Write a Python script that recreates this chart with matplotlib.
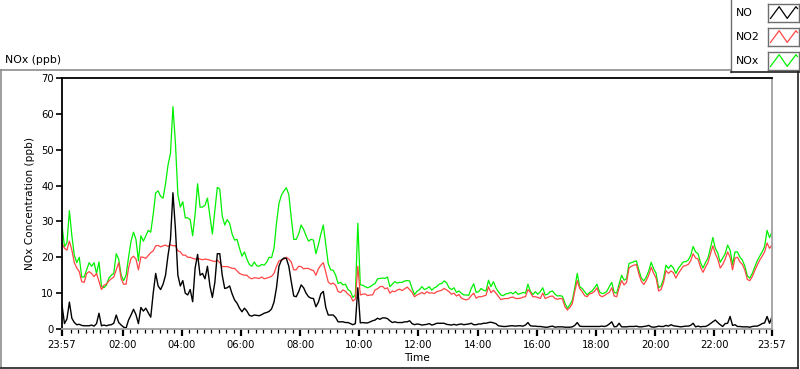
import numpy as np
import matplotlib.pyplot as plt
from matplotlib.lines import Line2D

# 5-minute samples starting at 23:57, one row per hour
no_ppb = [
    6.7, 1.5, 2.8, 7.5, 3.0, 1.8, 1.2, 1.3, 1.0, 0.9, 0.9, 0.9,
    1.1, 0.8, 1.5, 4.4, 0.9, 1.1, 0.9, 1.1, 1.2, 1.6, 3.9, 1.8,
    1.1, 0.5, 0.3, 2.5, 3.9, 5.5, 4.0, 1.5, 6.0, 5.0, 5.8, 4.5,
    3.3, 10.0, 15.5, 12.0, 11.0, 12.5, 15.0, 20.5, 25.0, 38.0, 28.0, 15.0,
    12.0, 13.5, 10.0, 9.5, 11.0, 7.6, 17.0, 20.8, 15.0, 15.5, 14.0, 17.5,
    12.0, 8.8, 13.0, 21.0, 21.0, 15.0, 11.3, 11.5, 12.0, 9.8, 8.1, 7.2,
    5.8, 4.8, 5.8, 5.0, 3.8, 3.6, 3.9, 3.8, 3.7, 4.0, 4.4, 4.6,
    4.9, 5.6, 7.5, 11.5, 17.5, 19.2, 19.8, 19.7, 17.5, 13.2, 9.2, 9.0,
    10.4, 12.3, 11.5, 10.0, 9.0, 8.6, 8.5, 6.2, 7.5, 9.8, 10.5, 6.0,
    3.9, 3.9, 3.9, 3.2, 2.0, 2.0, 2.0, 1.8, 1.8, 1.5, 1.2, 1.5,
    11.5, 1.7, 1.8, 1.7, 1.7, 2.0, 2.3, 2.5, 3.0, 2.7, 3.1, 3.1,
    2.9, 2.3, 1.8, 2.0, 1.8, 1.8, 1.8, 2.0, 2.0, 2.3, 1.5, 1.2,
    1.4, 1.3, 1.1, 1.2, 1.3, 1.5, 1.1, 1.3, 1.6, 1.6, 1.6, 1.6,
    1.3, 1.2, 1.1, 1.3, 1.1, 1.3, 1.4, 1.2, 1.3, 1.4, 1.6, 1.2,
    1.2, 1.4, 1.4, 1.6, 1.6, 1.8, 1.9, 1.7, 1.5, 0.9, 0.8, 0.7,
    0.7, 0.8, 0.9, 0.9, 0.8, 0.9, 0.9, 0.8, 1.1, 1.8, 0.9, 0.8,
    0.8, 0.7, 0.7, 0.6, 0.5, 0.5, 0.7, 0.8, 0.5, 0.6, 0.6, 0.6,
    0.5, 0.5, 0.5, 0.6, 1.0, 1.8, 0.8, 0.7, 0.7, 0.7, 0.7, 0.7,
    0.7, 0.7, 0.7, 0.8, 0.7, 0.9, 1.4, 2.0, 0.6, 0.7, 1.6, 0.6,
    0.6, 0.6, 0.7, 0.7, 0.7, 0.8, 0.6, 0.6, 0.7, 0.8, 1.0, 0.6,
    0.5, 0.6, 0.8, 0.7, 0.7, 1.0, 0.8, 1.2, 0.9, 0.8, 0.7, 0.6,
    0.7, 0.8, 0.8, 1.0, 1.6, 0.6, 0.8, 0.6, 0.7, 0.7, 1.0, 1.5,
    2.0, 2.5, 1.8, 1.2, 0.7, 1.5, 1.6, 3.5, 1.0, 1.2, 0.7, 0.7,
    0.6, 0.6, 0.6, 0.5, 0.7, 0.8, 0.8, 1.1, 1.5, 1.7, 3.5, 1.6,
    3.4,
]

no2_ppb = [
    23.9, 22.5, 22.0, 24.5, 22.0, 18.5, 17.0, 16.0, 13.2, 13.0, 15.5, 16.0,
    15.5, 14.6, 15.5, 13.2, 11.0, 12.2, 12.5, 13.4, 14.0, 14.5, 16.5, 18.5,
    14.0, 12.5, 12.5, 17.0, 19.7, 20.3, 19.5, 16.5, 20.1, 20.0, 19.7, 20.5,
    21.3, 21.8, 23.2, 23.3, 22.9, 23.2, 23.4, 23.0, 23.5, 23.2, 23.3, 21.8,
    21.5, 20.6, 20.6, 20.0, 20.0, 19.7, 19.5, 19.7, 19.5, 19.3, 19.5, 19.4,
    19.2, 19.0, 18.8, 19.2, 18.5, 17.4, 17.4, 17.4, 17.2, 16.9, 16.9, 16.2,
    15.5, 15.2, 15.0, 15.0, 14.3, 14.0, 14.3, 14.2, 14.1, 14.5, 14.0, 14.2,
    14.4, 14.7, 15.5, 17.5, 19.0, 19.2, 19.5, 20.0, 19.5, 18.7, 16.5, 16.5,
    17.5, 17.4, 16.8, 16.9, 16.9, 16.5, 16.3, 15.0, 16.8, 17.8, 18.5, 15.8,
    13.1, 12.5, 12.8, 12.2, 10.4, 10.2, 10.9, 10.5, 9.7, 9.2, 7.8, 8.3,
    17.5, 9.5, 9.7, 9.8, 9.3, 9.5, 9.5, 10.9, 11.2, 11.8, 11.9, 11.2,
    11.5, 10.0, 10.6, 10.4, 10.9, 11.1, 10.7, 11.2, 11.7, 11.0, 10.2, 9.0,
    9.5, 9.8, 10.2, 9.8, 10.4, 10.0, 10.1, 9.9, 10.4, 10.6, 10.8, 11.3,
    10.9, 10.4, 9.7, 10.0, 9.2, 9.6, 8.6, 8.3, 8.1, 8.4, 9.3, 10.0,
    8.6, 9.0, 9.0, 9.2, 9.4, 11.8, 10.1, 10.8, 10.0, 9.1, 8.2, 8.4,
    8.5, 8.5, 8.8, 8.9, 8.5, 8.5, 8.6, 8.9, 9.0, 11.0, 10.2, 9.0,
    9.0, 8.8, 8.5, 10.0, 8.5, 8.8, 9.1, 9.2, 8.5, 8.3, 8.5, 8.4,
    6.2, 5.3, 6.0, 7.1, 10.5, 13.5, 11.3, 10.4, 9.3, 9.0, 9.8, 10.0,
    10.5, 11.5, 9.5, 9.0, 9.3, 9.8, 10.2, 11.5, 9.2, 9.0, 11.5, 13.5,
    12.3, 13.0, 17.0, 17.5, 17.8, 18.0, 15.3, 13.3, 12.4, 13.5, 15.0, 17.2,
    15.5, 14.2, 10.6, 11.0, 13.0, 16.3, 15.5, 16.2, 15.7, 14.2, 15.5, 16.5,
    17.5, 17.7, 18.0, 19.0, 21.0, 19.8, 19.5, 17.2, 15.8, 17.2, 18.5, 20.8,
    23.2, 21.0, 19.5, 17.0, 18.0, 19.5, 21.5, 20.0, 16.5, 19.8, 20.0, 18.7,
    18.0, 16.4, 13.8, 13.5, 14.6, 16.3, 17.8, 19.2, 20.3, 21.5, 24.0, 22.5,
    23.5,
]

nox_ppb = [
    29.0, 23.0, 24.0, 33.0, 26.0, 20.5, 18.5, 20.0, 14.5, 14.5, 16.5, 18.5,
    17.5, 18.5, 15.5, 18.7, 12.0, 11.5, 12.2, 14.2, 15.0, 15.5, 21.0, 19.5,
    15.0, 13.5, 15.0, 20.0, 24.5, 27.0, 25.0, 19.0, 26.0, 24.5, 26.0, 27.5,
    27.0, 32.0, 38.0, 38.5, 37.0, 36.5, 40.5, 45.7, 49.0, 62.0, 52.0, 37.5,
    34.0, 35.5, 31.0, 31.0, 30.5, 26.0, 32.0, 40.5, 34.0, 34.0, 34.5, 36.5,
    31.5, 26.5, 33.0, 39.5, 39.0, 31.5, 29.0, 30.5, 29.5, 26.5, 24.8, 25.0,
    22.5, 20.3, 21.5, 19.5, 18.0, 17.5, 18.7, 17.6, 17.5, 18.0, 17.8, 18.6,
    20.0, 19.9, 22.5, 29.5, 35.0, 37.3, 38.5, 39.4, 37.5, 31.0, 25.0, 25.0,
    26.5, 29.0, 27.8, 26.0, 24.5, 25.0, 24.8, 21.0, 23.5, 26.5, 29.0, 23.5,
    18.2, 16.5, 16.4, 15.0, 12.7, 13.0, 12.3, 12.5, 11.0, 10.5, 8.8, 9.5,
    29.5, 12.3, 12.2, 11.8, 11.5, 11.8, 12.3, 12.7, 14.0, 14.1, 14.2, 14.1,
    14.5, 11.8, 12.5, 13.2, 12.8, 13.0, 13.0, 13.4, 13.5, 13.4, 11.3, 9.6,
    10.5, 11.0, 11.8, 11.0, 11.3, 11.8, 10.8, 11.5, 11.8, 12.5, 12.7, 13.4,
    12.9, 11.5, 11.0, 11.5, 10.2, 10.6, 10.0, 9.5, 9.5, 9.4, 11.3, 12.6,
    10.2, 10.4, 11.3, 10.8, 10.6, 13.6, 11.8, 13.2, 11.5, 10.4, 9.5, 9.3,
    9.8, 9.9, 10.2, 9.8, 10.4, 9.7, 9.9, 10.2, 10.0, 12.5, 10.5, 9.6,
    10.4, 9.7, 10.4, 11.5, 9.5, 9.7, 10.4, 10.6, 9.7, 9.2, 9.3, 9.1,
    7.2, 5.8, 6.7, 8.0, 11.5, 15.5, 11.8, 11.3, 10.4, 9.5, 10.2, 10.6,
    11.5, 12.5, 10.4, 9.9, 10.0, 10.5, 11.8, 13.0, 10.2, 10.0, 12.6, 15.0,
    13.6, 14.0, 18.3, 18.5, 18.8, 19.0, 16.4, 14.2, 13.4, 14.5, 16.2, 18.6,
    16.8, 15.5, 11.5, 12.0, 14.0, 17.8, 16.9, 17.8, 17.0, 15.5, 16.9, 17.8,
    18.7, 18.8, 19.2, 20.5, 23.0, 21.5, 21.0, 18.5, 17.0, 18.5, 19.8, 22.5,
    25.5, 22.5, 21.2, 18.6, 19.8, 21.0, 23.4, 22.0, 18.0, 21.5, 21.5, 20.0,
    19.2, 17.5, 14.8, 14.2, 15.5, 17.3, 19.0, 20.3, 21.5, 23.0, 27.5, 25.5,
    27.0,
]

tick_hours = [-0.05, 2, 4, 6, 8, 10, 12, 14, 16, 18, 20, 22, 23.95]
tick_labels = ["23:57", "02:00", "04:00", "06:00", "08:00", "10:00", "12:00",
               "14:00", "16:00", "18:00", "20:00", "22:00", "23:57"]

W, H = 800, 369
def fx(px):
    return px / W
def fy(py):
    return 1 - py / H

plt.rcParams['font.family'] = ['DejaVu Sans']
fig = plt.figure(figsize=(8, 3.69), dpi=100)

hours = -0.05 + np.arange(len(no_ppb)) / 12.0

ax = fig.add_axes([fx(62), fy(329), fx(772) - fx(62), fy(78) - fy(329)])
ax.plot(hours, nox_ppb, color="#00f000", lw=0.9)
ax.plot(hours, no2_ppb, color="#ff4545", lw=0.9)
ax.plot(hours, no_ppb, color="black", lw=1.0)
ax.set_xlim(-0.05, 23.95)
ax.set_ylim(0, 70)

for s in ["left", "top"]:
    ax.spines[s].set_color("black")
    ax.spines[s].set_linewidth(1.3)
for s in ["right", "bottom"]:
    ax.spines[s].set_color("#a0a0a0")
    ax.spines[s].set_linewidth(1.3)

ax.set_xticks(tick_hours)
ax.set_xticklabels(tick_labels)
minor = [m / 4.0 for m in range(1, 96) if m % 8 != 0]
ax.set_xticks(minor, minor=True)
ax.set_yticks(range(0, 71, 10))
ax.tick_params(axis="x", which="major", length=5, width=1.6, pad=3, labelsize=7.2)
ax.tick_params(axis="x", which="minor", length=3, width=0.9)
ax.tick_params(axis="y", which="major", length=4, width=1.2, pad=2, labelsize=7.2)
ax.set_ylabel("NOx Concentration (ppb)", fontsize=7.6, labelpad=4)
ax.set_xlabel("Time", fontsize=7.6, labelpad=2)

# outer panel frame
fig.add_artist(Line2D([fx(0.5), fx(731)], [fy(69.5), fy(69.5)], color="#8c8c8c", lw=1.2))
fig.add_artist(Line2D([fx(0.8), fx(0.8)], [fy(69.5), fy(368)], color="#8c8c8c", lw=1.2))
fig.add_artist(Line2D([fx(0.5), fx(798)], [fy(368), fy(368)], color="#202020", lw=1.2))
fig.add_artist(Line2D([fx(798), fx(798)], [fy(72), fy(368)], color="#202020", lw=1.2))

fig.text(fx(5), fy(60), "NOx (ppb)", fontsize=7.8, va="center", ha="left")

# legend panel
fig.add_artist(Line2D([fx(731), fx(731)], [fy(0), fy(72)], color="#6e6e6e", lw=1.0))
fig.add_artist(Line2D([fx(731), fx(800)], [fy(72), fy(72)], color="#202020", lw=1.2))
legend_names = ["NO", "NO2", "NOx"]
legend_colors = ["black", "#ff4545", "#00f000"]
rows = [(4, 22), (28, 46), (52, 70)]
for name, col, (y0, y1) in zip(legend_names, legend_colors, rows):
    fig.text(fx(736), fy((y0 + y1) / 2), name, fontsize=7.8, va="center", ha="left")
    sw = fig.add_axes([fx(768), fy(y1), fx(799) - fx(768), fy(y0) - fy(y1)])
    sw.plot([0.08, 0.36, 0.62, 0.9, 0.95], [0.2, 0.85, 0.2, 0.85, 0.75], color=col, lw=0.9)
    sw.set_xlim(0, 1)
    sw.set_ylim(0, 1)
    sw.set_xticks([])
    sw.set_yticks([])
    for s in sw.spines.values():
        s.set_color("#6e6e6e")
        s.set_linewidth(1.0)

fig.savefig("out.png", dpi=100, facecolor="white")
